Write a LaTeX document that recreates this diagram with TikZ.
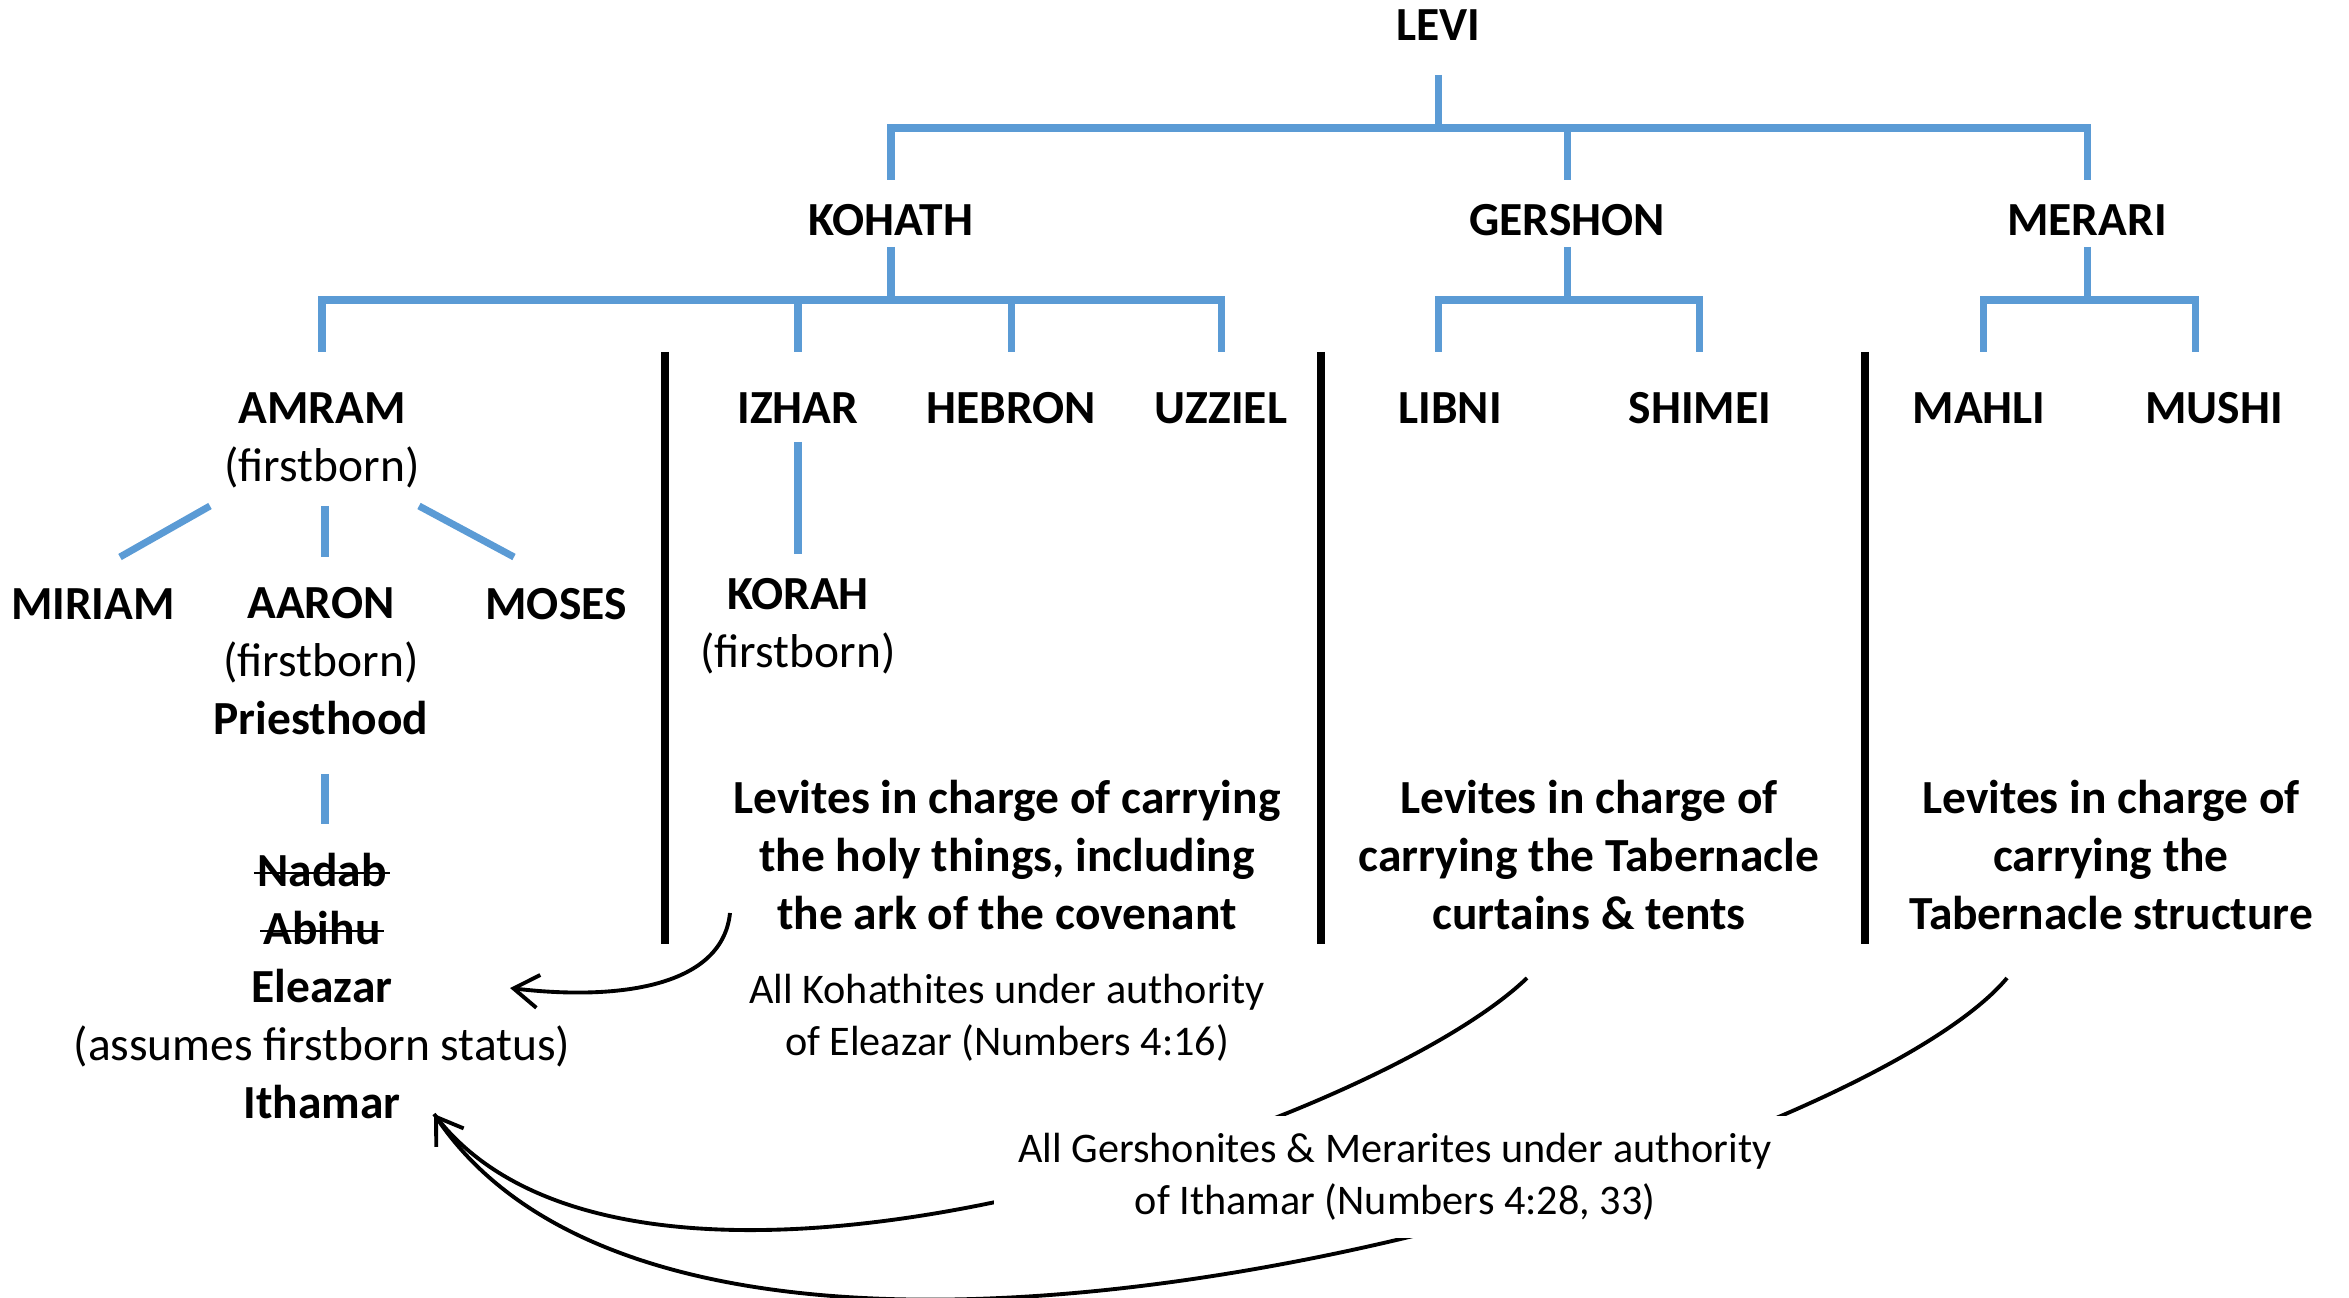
\documentclass[tikz,border=0pt]{standalone}
\usepackage{fontspec}
\setmainfont{Carlito}
\usepackage{xcolor}
\usepackage{tikz}
\usetikzlibrary{arrows.meta,positioning,calc}
\definecolor{treeblue}{HTML}{5B9BD5}
\newcommand{\chartfont}{\fontsize{13.5}{16.5}\selectfont}
\newcommand{\notefont}{\fontsize{12}{14.7}\selectfont}
\newsavebox{\strikebox}
\newcommand{\struck}[1]{\sbox{\strikebox}{#1}\rlap{\hspace{-1pt}\rule[0.26em]{\dimexpr\wd\strikebox+2pt\relax}{0.7pt}}\usebox{\strikebox}}
\tikzset{
	person/.style={font=\chartfont\bfseries, align=center, inner sep=2pt},
	note/.style={font=\notefont, align=center, inner sep=2pt},
	tree/.style={draw=treeblue, line width=2pt},
	divider/.style={draw=black, line width=2.3pt},
	authority/.style={-{Straight Barb[length=2.5mm,width=3.3mm]}, line width=1.1pt}
}
\begin{document}
\begin{tikzpicture}[x=0.01cm, y=-0.01cm]
	\useasboundingbox (0,0) rectangle (2349,1298);
	
	%% ── Generations ─────────────────────────────────────────────────
	\node[person] (levi) at (1438,25) {LEVI};
	
	\node[person] (kohath)  at (891,220)  {KOHATH};
	\node[person] (gershon) at (1567,220) {GERSHON};
	\node[person] (merari)  at (2087,220) {MERARI};
	
	\node[person] (amram)  at (322,440)  {AMRAM\\\mdseries(firstborn)};
	\node[person] (izhar)  at (798,408)  {IZHAR};
	\node[person] (hebron) at (1011,408) {HEBRON};
	\node[person] (uzziel) at (1221,408) {UZZIEL};
	\node[person] (libni)  at (1450,408) {LIBNI};
	\node[person] (shimei) at (1700,408) {SHIMEI};
	\node[person] (mahli)  at (1979,408) {MAHLI};
	\node[person] (mushi)  at (2214,408) {MUSHI};
	
	\node[person] (korah) at (798,626) {KORAH\\\mdseries(firstborn)};
	
	\node[person] (miriam) at (93,604)  {MIRIAM};
	\node[person] (aaron)  at (321,661) {AARON\\\mdseries(firstborn)\\Priesthood};
	\node[person] (moses)  at (556,604) {MOSES};
	
	\node[person] (sons) at (322,986)
	{\struck{Nadab}\\\struck{Abihu}\\Eleazar\\\mdseries(assumes firstborn status)\\Ithamar};
	
	%% ── Duties ──────────────────────────────────────────────────────
	\node[person] (kohathjob)  at (1007,855) {Levites in charge of carrying\\the holy things, including\\the ark of the covenant};
	\node[person] (gershonjob) at (1589,855) {Levites in charge of\\carrying the Tabernacle\\curtains \& tents};
	\node[person] (merarijob)  at (2111,855) {Levites in charge of\\carrying the\\Tabernacle structure};
	
	\node[note] (kohathnote) at (1007,1018) {All Kohathites under authority\\of Eleazar (Numbers 4:16)};
	
	%% ── Family tree lines ───────────────────────────────────────────
	\coordinate (stem0) at (0,75);
	\coordinate (bar0)  at (0,128);
	\coordinate (drop0) at (0,180);
	\coordinate (stem1) at (0,247);
	\coordinate (bar1)  at (0,300);
	\coordinate (drop1) at (0,352);
	
	\draw[tree] (levi |- stem0) -- (levi |- bar0);
	\draw[tree] (kohath |- drop0) -- (kohath |- bar0) -- (merari |- bar0) -- (merari |- drop0);
	\draw[tree] (gershon |- bar0) -- (gershon |- drop0);
	
	\draw[tree] (kohath |- stem1) -- (kohath |- bar1);
	\draw[tree] (gershon |- stem1) -- (gershon |- bar1);
	\draw[tree] (merari |- stem1) -- (merari |- bar1);
	
	\draw[tree] (amram |- drop1) -- (amram |- bar1) -- (uzziel |- bar1) -- (uzziel |- drop1);
	\draw[tree] (izhar |- bar1) -- (izhar |- drop1);
	\draw[tree] (hebron |- bar1) -- (hebron |- drop1);
	
	\coordinate (gL) at (1438,300);
	\coordinate (gR) at (1699,300);
	\draw[tree] (gL |- drop1) -- (gL) -- (gR) -- (gR |- drop1);
	\coordinate (mL) at (1983,300);
	\coordinate (mR) at (2195,300);
	\draw[tree] (mL |- drop1) -- (mL) -- (mR) -- (mR |- drop1);
	
	% Amram's children, Izhar's son, Aaron's sons
	\draw[tree] (210,506) -- (120,557);
	\draw[tree] (325,506) -- (325,557);
	\draw[tree] (419,506) -- (514,557);
	\draw[tree] (izhar |- 0,442) -- (izhar |- 0,554);
	\draw[tree] (325,774) -- (325,824);
	
	%% ── Dividers ────────────────────────────────────────────────────
	\foreach \x in {665,1321,1865}
	\draw[divider] (\x,352) -- (\x,944);
	
	%% ── Authority arrows ────────────────────────────────────────────
	\coordinate (kstart) at (730,913);
	\coordinate (gstart) at (1527,978);
	\coordinate (mstart) at (2007,978);
	\coordinate (eleazartip) at (510,988);
	\coordinate (ithamartip) at (434,1114);
	
	\draw[authority] (kstart) .. controls (722,990) and (610,1000) .. (eleazartip);
	\draw[line width=1.1pt] (gstart) .. controls (1369,1130) and (632,1378) .. (ithamartip);
	\draw[authority] (mstart) .. controls (1847,1170) and (703,1512) .. (ithamartip);
	
	\node[note, fill=white, inner xsep=7pt, inner ysep=5pt] (othernote) at (1395,1177)
	{All Gershonites \& Merarites under authority\\of Ithamar (Numbers 4:28, 33)};
\end{tikzpicture}
\end{document}
